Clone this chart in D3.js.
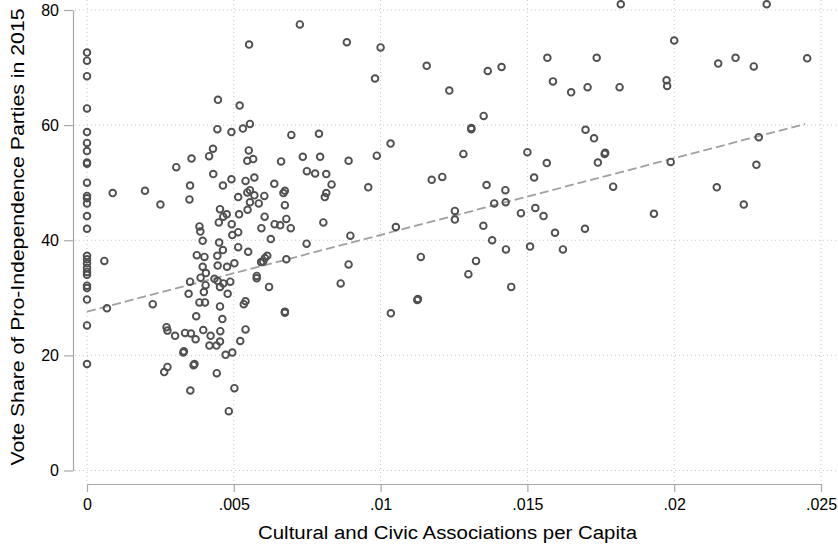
<!DOCTYPE html>
<html>
<head>
<meta charset="utf-8">
<script src="https://cdn.jsdelivr.net/npm/d3@7/dist/d3.min.js"></script>
<style>
  body { margin: 0; background: #fff; }
  svg { font-family: "Liberation Sans", Arial, Helvetica, sans-serif; }
  .grid line { stroke: #c8c8c8; stroke-width: 1; stroke-dasharray: 1,3; }
  .axis path, .axis line { stroke: #a8a8a8; stroke-width: 1.2; }
</style>
</head>
<body>
<svg id="chart"></svg>
<script>
// tick labels
const xTicks = [0, 0.005, 0.01, 0.015, 0.02, 0.025];
const xTickLabels = ["0", ".005", ".01", ".015", ".02", ".025"];
const yTicks = [0, 20, 40, 60, 80];

// municipalities with no associations (x = 0)
const zeroAssoc = [0, 0, 0, 0, 0, 0, 0, 0, 0, 0, 0, 0, 0, 0, 0, 0, 0, 0, 0, 0, 0, 0, 0, 0, 0, 0];
const zeroVote = [72.6, 71.2, 68.5, 62.9, 58.8, 56.9, 55.5, 53.5, 53.3, 50.0, 47.7, 47.3, 46.4, 44.2, 42.0,
  37.3, 36.7, 36.0, 35.2, 34.5, 34.0, 32.1, 31.7, 29.7, 25.2, 18.5];

// associations per capita
const assoc = [
  0.00552, 0.00446, 0.0052, 0.00444, 0.00492, 0.00531, 0.00555, 0.00551, 0.00566, 0.00546, 0.00429, 0.00416, 0.00356, 0.00304,
  0.0043, 0.00492, 0.0054, 0.0057, 0.000875, 0.001975, 0.0025, 0.00351, 0.00349, 0.00059, 0.00068, 0.00224,
  0.00463, 0.00546, 0.00555, 0.00515, 0.0057, 0.00555, 0.00585, 0.00453, 0.00476, 0.00464, 0.00449, 0.00518, 0.00547,
  0.00493, 0.00515, 0.00495, 0.00383, 0.00386, 0.00394, 0.0045, 0.00463, 0.00515, 0.00549, 0.00374, 0.004, 0.00444,
  0.00502, 0.00477, 0.00445, 0.00394, 0.00405, 0.00387, 0.00351, 0.00434, 0.00445, 0.00488, 0.00464, 0.00404, 0.00453,
  0.00578, 0.00578, 0.00346, 0.00398, 0.00479, 0.00383, 0.00402, 0.00453, 0.0054, 0.00534, 0.00372, 0.00461,
  0.00271, 0.00274, 0.003, 0.00334, 0.00354, 0.0037, 0.00396, 0.00421, 0.00454, 0.00453, 0.00441, 0.00417, 0.0054, 0.00522,
  0.00328, 0.0033, 0.00472, 0.00495, 0.00274, 0.00366, 0.00363,
  0.00263, 0.00442, 0.00502, 0.00352, 0.00483,
  0.00605, 0.00594, 0.00639, 0.00658, 0.00679, 0.00694, 0.00626, 0.006, 0.00614, 0.00593, 0.00606, 0.0062, 0.00679, 0.00674, 0.00674,
  0.00725, 0.00885, 0.01, 0.00981, 0.01157, 0.01234, 0.00696, 0.0079, 0.00661, 0.00735, 0.00794, 0.00891, 0.00987, 0.01034,
  0.00749, 0.00777, 0.00815, 0.01174, 0.0121,
  0.00638, 0.00833, 0.00815, 0.0081, 0.00669, 0.00674, 0.00604, 0.00674, 0.00958, 0.00805, 0.00748, 0.00897, 0.01052,
  0.00891, 0.00864, 0.01137, 0.01125, 0.01127, 0.01035,
  0.01818, 0.01568, 0.01736, 0.01587, 0.01705, 0.01649, 0.01814, 0.01365, 0.01412, 0.01351, 0.01309, 0.01309, 0.01282,
  0.015, 0.01566, 0.01698, 0.01727, 0.01763, 0.01765, 0.0174, 0.01523,
  0.01361, 0.01425, 0.01387, 0.01426, 0.01253, 0.01253, 0.01792, 0.01478, 0.01527, 0.01555, 0.0135, 0.01594, 0.01696,
  0.0138, 0.01427, 0.01509, 0.01621, 0.01325, 0.01299, 0.01445,
  0.02315, 0.02, 0.0215, 0.02209, 0.02271, 0.02453, 0.01974, 0.01976, 0.02288, 0.01988, 0.0228, 0.01931, 0.02145, 0.02237
];

// vote share of pro-independence parties, same order as assoc
const vote = [
  74.0, 64.4, 63.4, 59.3, 58.8, 59.4, 60.2, 55.6, 54.1, 53.8, 55.9, 54.6, 54.2, 52.7,
  51.5, 50.6, 50.3, 50.9, 48.2, 48.6, 46.2, 49.5, 47.1, 36.4, 28.2, 28.9,
  49.5, 48.3, 48.7, 47.5, 47.8, 46.6, 46.4, 45.4, 44.5, 44.1, 43.1, 44.5, 45.3,
  42.8, 41.4, 40.9, 42.4, 41.5, 39.9, 39.6, 38.3, 38.8, 38.0, 37.4, 37.1, 37.3,
  36.0, 35.4, 35.6, 35.4, 34.3, 33.5, 32.8, 33.3, 32.9, 32.8, 32.5, 32.2, 31.9,
  33.8, 33.4, 30.7, 31.0, 30.7, 29.2, 29.2, 28.5, 29.4, 28.9, 26.8, 26.3,
  24.9, 24.3, 23.4, 23.9, 23.8, 22.8, 24.4, 23.4, 24.2, 22.4, 21.7, 21.7, 24.5, 22.5,
  20.5, 20.7, 20.1, 20.5, 18.0, 18.5, 18.3,
  17.1, 16.9, 14.3, 13.9, 10.3,
  44.1, 42.1, 42.8, 42.6, 43.7, 42.1, 40.2, 36.3, 37.3, 36.2, 36.9, 31.9, 36.7, 27.6, 27.4,
  77.5, 74.4, 73.5, 68.1, 70.3, 66.0, 58.3, 58.5, 53.7, 54.5, 54.5, 53.8, 54.7, 56.8,
  52.0, 51.6, 51.5, 50.5, 51.0,
  49.8, 49.7, 48.2, 47.5, 48.2, 48.6, 47.7, 46.1, 49.2, 43.1, 39.4, 40.8, 42.3,
  35.8, 32.5, 37.1, 29.6, 29.8, 27.3,
  81.0, 71.7, 71.7, 67.6, 66.6, 65.7, 66.6, 69.4, 70.1, 61.6, 59.3, 59.5, 55.0,
  55.3, 53.4, 59.2, 57.7, 55.0, 55.2, 53.5, 50.9,
  49.6, 48.7, 46.4, 46.6, 45.1, 43.6, 49.3, 44.7, 45.6, 44.2, 42.5, 41.3, 42.0,
  40.0, 38.4, 38.9, 38.4, 36.4, 34.1, 31.9,
  81.0, 74.7, 70.7, 71.7, 70.2, 71.6, 67.8, 66.8, 57.9, 53.6, 53.1, 44.6, 49.2, 46.2
];

// fitted line end points
const fitX = [0, 0.02446];
const fitY = [27.6, 60.2];

const svgWidth = 838;
const svgHeight = 544;

const svg = d3.select('#chart')
    .attr('width', svgWidth)
    .attr('height', svgHeight);

const x = d3.scaleLinear().domain([0, 0.025]).range([87, 821]);
const y = d3.scaleLinear().domain([0, 80]).range([470.5, 10]);

// grid
const grid = svg.append('g').attr('class', 'grid');
grid.selectAll('line.h')
    .data(yTicks)
    .enter().append('line')
    .attr('class', 'h')
    .attr('x1', 75).attr('x2', 838)
    .attr('y1', d => y(d)).attr('y2', d => y(d));
grid.selectAll('line.v')
    .data(xTicks)
    .enter().append('line')
    .attr('class', 'v')
    .attr('x1', d => x(d)).attr('x2', d => x(d))
    .attr('y1', 0).attr('y2', 482);

// axes
svg.append('g')
    .attr('class', 'axis')
    .attr('transform', 'translate(0,484)')
    .call(d3.axisBottom(x).tickValues(xTicks).tickSize(8).tickSizeOuter(0)
        .tickFormat((d, i) => xTickLabels[i]))
    .call(g => g.selectAll('text').attr('y', 15).attr('font-size', 16).attr('fill', '#000').style('font-family', 'inherit'));

svg.append('g')
    .attr('class', 'axis')
    .attr('transform', 'translate(73,0)')
    .call(d3.axisLeft(y).tickValues(yTicks).tickSize(9).tickSizeOuter(0))
    .call(g => g.selectAll('text').attr('x', -14).attr('font-size', 16).attr('fill', '#000').style('font-family', 'inherit'));

// fitted line
svg.append('line')
    .attr('x1', x(fitX[0])).attr('y1', y(fitY[0]))
    .attr('x2', x(fitX[1])).attr('y2', y(fitY[1]))
    .attr('stroke', '#a0a0a0')
    .attr('stroke-width', 1.8)
    .attr('stroke-dasharray', '9,4');

// points
const points = zeroAssoc.map((d, i) => [d, zeroVote[i]])
    .concat(assoc.map((d, i) => [d, vote[i]]));

svg.append('g')
    .selectAll('circle')
    .data(points)
    .enter().append('circle')
    .attr('cx', d => x(d[0]))
    .attr('cy', d => y(d[1]))
    .attr('r', 3.3)
    .attr('fill', 'none')
    .attr('stroke', '#505050')
    .attr('stroke-width', 1.9);

// titles (the reference font runs wider than Arial, so stretch to its measured length)
svg.append('text')
    .attr('x', 447.5).attr('y', 539)
    .attr('text-anchor', 'middle')
    .attr('font-size', 18)
    .attr('textLength', 379)
    .attr('lengthAdjust', 'spacingAndGlyphs')
    .text('Cultural and Civic Associations per Capita');

svg.append('text')
    .attr('transform', 'translate(23.5,237) rotate(-90)')
    .attr('text-anchor', 'middle')
    .attr('font-size', 18)
    .attr('textLength', 457)
    .attr('lengthAdjust', 'spacingAndGlyphs')
    .text('Vote Share of Pro-Independence Parties in 2015');
</script>
</body>
</html>
